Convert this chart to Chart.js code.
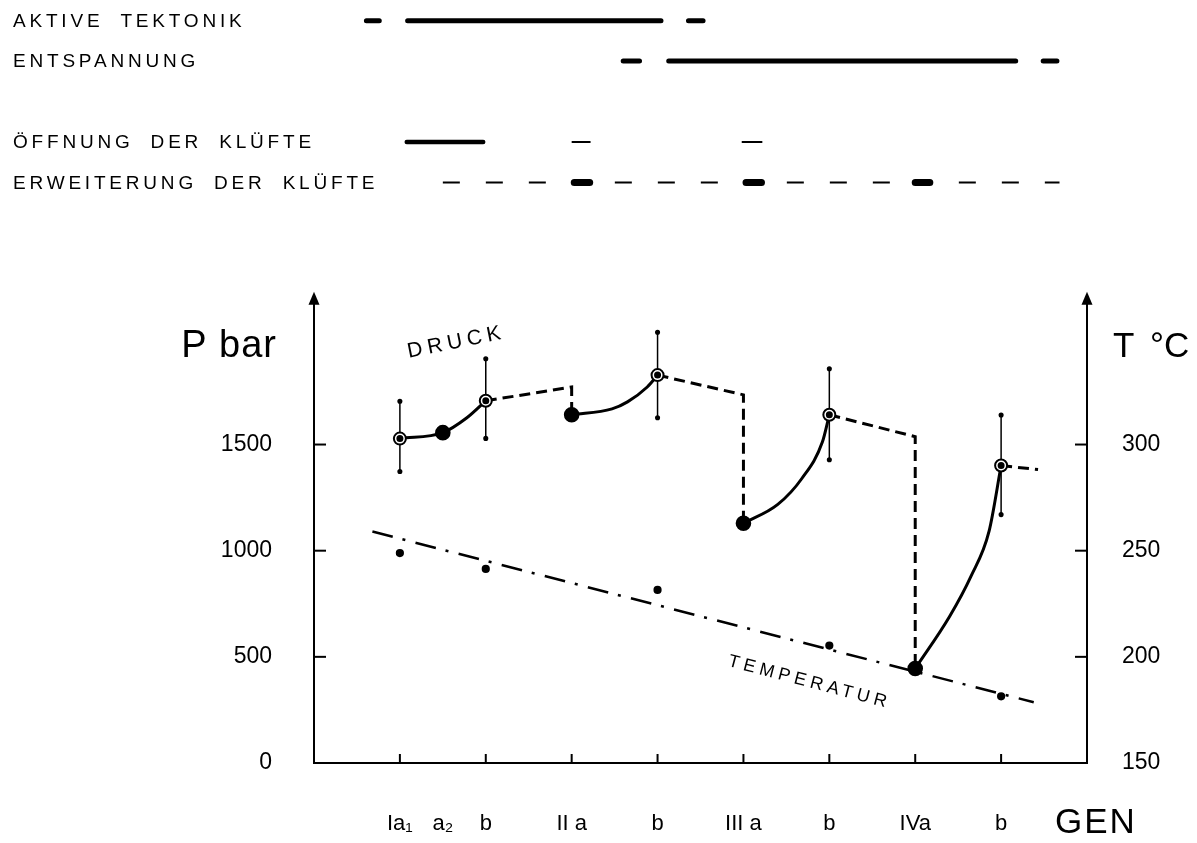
<!DOCTYPE html>
<html>
<head>
<meta charset="utf-8">
<script src="https://cdn.jsdelivr.net/npm/chart.js@4/dist/chart.umd.min.js"></script>
<style>
  html, body { margin: 0; padding: 0; background: #fff; }
  #wrap { width: 1197px; height: 843px; position: relative; }
</style>
</head>
<body>
<div id="wrap"><canvas id="chart"></canvas></div>
<script>
// Generationen auf der x-Achse
const genPos = [1, 1.5, 2, 3, 4, 5, 6, 7, 8];
const genLabels = ['Ia₁', 'a₂', 'b', 'II a', 'b', 'III a', 'b', 'IVa', 'b'];
const genTicks = [1, 2, 3, 4, 5, 6, 7, 8];

// Achsenteilung
const pTicks = [0, 500, 1000, 1500];
const tTicks = [150, 200, 250, 300];
const pfeilOben = 2220;

// Druck: Messpunkte mit Streubereich
const druckX = [1, 2, 4, 6, 8];
const druck = [1528, 1706, 1827, 1640, 1401];
const druckMin = [1373, 1529, 1626, 1428, 1170];
const druckMax = [1704, 1904, 2029, 1857, 1639];

// Druck: Beginn der Generation (gefuellte Punkte)
const startX = [1.5, 3, 5, 7];
const startDruck = [1556, 1640, 1129, 445];

// Druckanstieg (ausgezogene Kurven)
const anstieg1 = [[1, 1528], [1.5, 1556], [1.78, 1626], [2, 1706]];
const anstieg2 = [[3, 1640], [3.47, 1668], [3.65, 1701], [3.88, 1771], [4, 1827]];
const anstieg3 = [[5, 1129], [5.4, 1218], [5.68, 1340], [5.92, 1513], [6, 1640]];
const anstieg4 = [[7, 445], [7.4, 690], [7.65, 880], [7.86, 1092], [8, 1401]];

// Druckabfall (gestrichelt)
const abfall1 = [[2, 1706], [3, 1771], [3, 1640]];
const abfall2 = [[4, 1827], [5, 1734], [5, 1129]];
const abfall3 = [[6, 1640], [7, 1537], [7, 445]];
const abfall4 = [[8, 1401], [8.43, 1382]];

// Temperatur
const tempX = [1, 2, 4, 6, 8];
const temp = [248.9, 241.4, 231.5, 205.3, 181.4];
const tempTrend = [[0.68, 259], [8.38, 178.6]];

// Zeitbalken oben
const zeilen = ['AKTIVE TEKTONIK', 'ENTSPANNUNG', 'ÖFFNUNG DER KLÜFTE', 'ERWEITERUNG DER KLÜFTE'];
const zeileNr = [1, 2, 4, 5];
const tektonik = [[0.61, 0.76], [1.09, 4.04], [4.36, 4.53]];
const entspannung = [[3.60, 3.79], [4.13, 8.17], [8.49, 8.65]];
const oeffnungLang = [[1.08, 1.97]];
const oeffnungKurz = [[3.0, 3.22], [4.98, 5.22]];
const erweiterung = [[1.50, 8.68]];
const erweiterungStark = [[3.03, 3.21], [5.03, 5.21], [7.0, 7.17]];

const FONT = '"Liberation Sans", Arial, sans-serif';

function punkte(list) {
    return list.map(([x, y]) => ({ x: x, y: y }));
}

function segmente(list, row) {
    const out = [];
    list.forEach(([a, b], i) => {
        if (i > 0) out.push({ x: a, y: null });
        out.push({ x: a, y: row }, { x: b, y: row });
    });
    return out;
}

function linie(data, extra) {
    return Object.assign({
        type: 'line',
        data: data,
        borderColor: '#000',
        backgroundColor: '#000',
        borderWidth: 3,
        pointRadius: 0,
        fill: false,
        tension: 0,
        spanGaps: false,
        xAxisID: 'x',
        yAxisID: 'y'
    }, extra);
}

// Streubalken als Liniensegmente mit Luecken
const streuung = [];
druckX.forEach((x, i) => {
    if (i > 0) streuung.push({ x: x, y: null });
    streuung.push({ x: x, y: druckMin[i] }, { x: x, y: druckMax[i] });
});

const datasets = [
    // Mittelpunkte der Ringe
    linie(druckX.map((x, i) => ({ x: x, y: druck[i] })), { showLine: false, pointRadius: 2, pointBackgroundColor: '#000', order: 0 }),
    // Ringe
    linie(druckX.map((x, i) => ({ x: x, y: druck[i] })), { showLine: false, pointRadius: 6, pointBorderWidth: 2, pointBackgroundColor: '#fff', pointBorderColor: '#000', order: 1 }),
    // gefuellte Punkte
    linie(startX.map((x, i) => ({ x: x, y: startDruck[i] })), { showLine: false, pointRadius: 6.3, pointBackgroundColor: '#000', order: 2 }),
    // Streubereich
    linie(streuung, { borderWidth: 1.5, pointRadius: 1.8, pointBackgroundColor: '#000', order: 3 }),
    // Druckanstieg
    ...[anstieg1, anstieg2, anstieg3, anstieg4].map(k => linie(punkte(k), { cubicInterpolationMode: 'monotone', order: 4 })),
    // Druckabfall
    ...[abfall1, abfall2, abfall3, abfall4].map(k => linie(punkte(k), { borderDash: [11, 6], borderCapStyle: 'butt', order: 5 })),
    // Temperatur
    linie(punkte(tempTrend), { yAxisID: 'yT', borderWidth: 2.5, borderDash: [21, 10, 3, 10.5], order: 6 }),
    linie(tempX.map((x, i) => ({ x: x, y: temp[i] })), { yAxisID: 'yT', showLine: false, pointRadius: 2.6, pointBackgroundColor: '#000', order: 6 }),
    // Zeitbalken
    linie(segmente(tektonik, zeileNr[0]), { yAxisID: 'yRow', borderWidth: 5, borderCapStyle: 'round', order: 7 }),
    linie(segmente(entspannung, zeileNr[1]), { yAxisID: 'yRow', borderWidth: 5, borderCapStyle: 'round', order: 7 }),
    linie(segmente(oeffnungLang, zeileNr[2]), { yAxisID: 'yRow', borderWidth: 4.5, borderCapStyle: 'round', order: 7 }),
    linie(segmente(oeffnungKurz, zeileNr[2]), { yAxisID: 'yRow', borderWidth: 2, order: 7 }),
    linie(segmente(erweiterung, zeileNr[3]), { yAxisID: 'yRow', borderWidth: 2, borderDash: [17, 26], borderCapStyle: 'butt', order: 8 }),
    linie(segmente(erweiterungStark, zeileNr[3]), { yAxisID: 'yRow', borderWidth: 7, borderCapStyle: 'round', order: 7 })
];

// Achsen mit Pfeilen, Teilstriche nach innen, freie Beschriftung
const beschriftung = {
    id: 'beschriftung',
    beforeDatasetsDraw(chart) {
        const { ctx } = chart;
        const { x, y, yT } = chart.scales;
        const x0 = x.getPixelForValue(0);
        const x1 = x.getPixelForValue(9);
        const y0 = y.getPixelForValue(0);
        const yTop = y.getPixelForValue(pfeilOben);

        ctx.save();
        ctx.strokeStyle = '#000';
        ctx.fillStyle = '#000';
        ctx.lineWidth = 2;
        ctx.beginPath();
        ctx.moveTo(x0, yTop + 8);
        ctx.lineTo(x0, y0);
        ctx.lineTo(x1, y0);
        ctx.lineTo(x1, yTop + 8);
        ctx.stroke();

        [x0, x1].forEach(px => {
            ctx.beginPath();
            ctx.moveTo(px, yTop);
            ctx.lineTo(px - 5.5, yTop + 13);
            ctx.lineTo(px + 5.5, yTop + 13);
            ctx.closePath();
            ctx.fill();
        });

        pTicks.slice(1).forEach(v => {
            const py = y.getPixelForValue(v);
            ctx.beginPath();
            ctx.moveTo(x0, py);
            ctx.lineTo(x0 + 12, py);
            ctx.stroke();
        });
        tTicks.slice(1).forEach(v => {
            const py = yT.getPixelForValue(v);
            ctx.beginPath();
            ctx.moveTo(x1, py);
            ctx.lineTo(x1 - 12, py);
            ctx.stroke();
        });
        genTicks.forEach(v => {
            const px = x.getPixelForValue(v);
            ctx.beginPath();
            ctx.moveTo(px, y0);
            ctx.lineTo(px, y0 - 9);
            ctx.stroke();
        });
        ctx.restore();
    },
    afterDraw(chart) {
        const { ctx } = chart;
        const { x, y, yT, yRow } = chart.scales;
        const x0 = x.getPixelForValue(0);
        const x1 = x.getPixelForValue(9);
        const yTop = y.getPixelForValue(pfeilOben);
        const y0 = y.getPixelForValue(0);

        ctx.save();
        ctx.fillStyle = '#000';

        // Zeilen oben
        ctx.font = '19px ' + FONT;
        ctx.textAlign = 'left';
        ctx.textBaseline = 'middle';
        ctx.letterSpacing = '3.8px';
        ctx.wordSpacing = '8px';
        zeilen.forEach((t, i) => {
            ctx.fillText(t, 13, yRow.getPixelForValue(zeileNr[i]) + 1);
        });
        ctx.wordSpacing = '0px';

        // Achsentitel
        ctx.letterSpacing = '1px';
        ctx.textBaseline = 'alphabetic';
        ctx.font = '38px ' + FONT;
        ctx.textAlign = 'right';
        ctx.fillText('P bar', x0 - 37, yTop + 65);
        ctx.letterSpacing = '0px';
        ctx.font = '35px ' + FONT;
        ctx.textAlign = 'left';
        ctx.wordSpacing = '6px';
        ctx.fillText('T °C', x1 + 26, yTop + 65);
        ctx.wordSpacing = '0px';
        ctx.letterSpacing = '2px';
        ctx.font = '35px ' + FONT;
        ctx.fillText('GEN', x1 - 32, y0 + 70);

        // Kurvennamen
        ctx.textAlign = 'center';
        ctx.textBaseline = 'middle';
        ctx.save();
        ctx.translate(x.getPixelForValue(1.66), y.getPixelForValue(1982));
        ctx.rotate(-11.4 * Math.PI / 180);
        ctx.font = '21px ' + FONT;
        ctx.letterSpacing = '5px';
        ctx.fillText('DRUCK', 0, 0);
        ctx.restore();

        ctx.save();
        ctx.translate(x.getPixelForValue(5.77), yT.getPixelForValue(188));
        ctx.rotate(14.8 * Math.PI / 180);
        ctx.font = '18px ' + FONT;
        ctx.letterSpacing = '4.5px';
        ctx.fillText('TEMPERATUR', 0, 0);
        ctx.restore();

        ctx.restore();
    }
};

// unsichtbare Teilstriche als Abstand zwischen Achse und Zahlen
const abstand = len => ({ display: true, drawOnChartArea: false, drawTicks: true, tickLength: len, color: 'rgba(0,0,0,0)' });

new Chart(document.getElementById('chart'), {
    type: 'line',
    data: { datasets: datasets },
    options: {
        responsive: true,
        maintainAspectRatio: false,
        animation: false,
        events: [],
        layout: { padding: { top: 5, left: 0, right: 0, bottom: 0 } },
        plugins: {
            legend: { display: false },
            tooltip: { enabled: false }
        },
        scales: {
            x: {
                type: 'linear',
                position: 'bottom',
                min: 0,
                max: 9,
                afterBuildTicks: s => { s.ticks = genPos.map(v => ({ value: v })); },
                afterFit: s => { s.height = 80; },
                ticks: {
                    autoSkip: false,
                    maxRotation: 0,
                    padding: 48,
                    color: '#000',
                    font: { family: FONT, size: 22 },
                    callback: (v, i) => genLabels[i]
                },
                grid: { display: false, drawTicks: false },
                border: { display: false }
            },
            y: {
                type: 'linear',
                position: 'left',
                min: 0,
                max: 3550,
                afterBuildTicks: s => { s.ticks = pTicks.map(v => ({ value: v })); },
                afterFit: s => { s.width = 314; },
                ticks: { padding: 0, color: '#000', font: { family: FONT, size: 23, lineHeight: 0.4 }, callback: v => String(v) },
                grid: abstand(42),
                border: { display: false }
            },
            yT: {
                type: 'linear',
                position: 'right',
                min: 150,
                max: 505,
                afterBuildTicks: s => { s.ticks = tTicks.map(v => ({ value: v })); },
                afterFit: s => { s.width = 110; },
                ticks: { padding: 0, color: '#000', font: { family: FONT, size: 23, lineHeight: 0.4 }, callback: v => String(v) },
                grid: abstand(35),
                border: { display: false }
            },
            yRow: {
                type: 'linear',
                display: false,
                reverse: true,
                min: 0.72,
                max: 19.34
            }
        }
    },
    plugins: [beschriftung]
});
</script>
</body>
</html>
